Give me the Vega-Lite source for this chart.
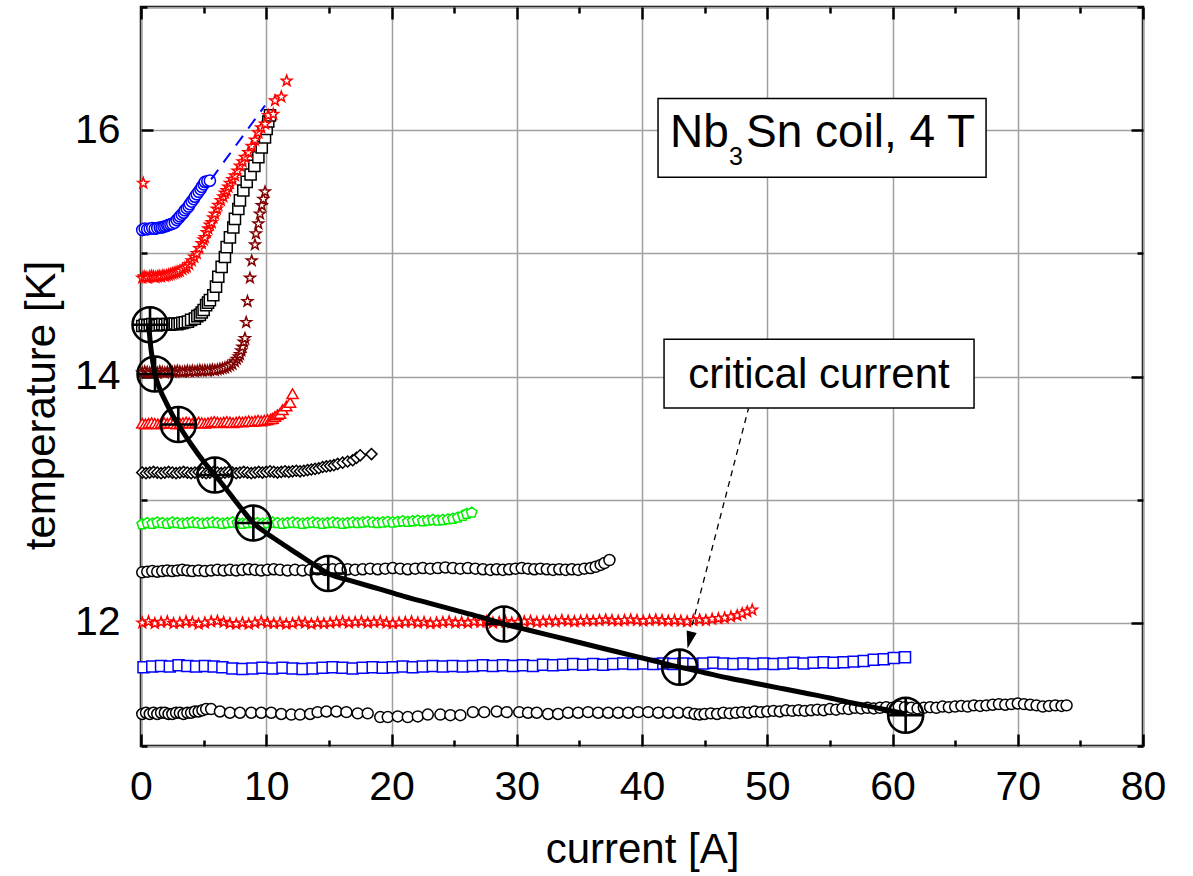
{
"$schema":"https://vega.github.io/schema/vega-lite/v6.json",
"width":1002,"height":739,
"autosize":{"type":"none"},
"padding":{"left":141,"top":7,"right":50,"bottom":130},
"background":"white",
"config":{"view":{"stroke":"black","strokeWidth":2.5},
"axis":{"domain":false,"gridColor":"#a0a0a0","gridWidth":1.5,"tickColor":"black","tickWidth":2.5,"labelFont":"Liberation Sans","labelFontSize":41,"labelColor":"black","titleFont":"Liberation Sans","titleFontSize":42,"titleFontWeight":"normal","titleColor":"black","labelFlush":false,"labelOverlap":false}},
"datasets":{
"series":[
{"s":"a","x":0.1,"y":11.26},{"s":"a","x":0.4,"y":11.27},{"s":"a","x":0.7,"y":11.26},{"s":"a","x":1.0,"y":11.27},{"s":"a","x":1.3,"y":11.26},{"s":"a","x":1.6,"y":11.27},{"s":"a","x":1.9,"y":11.27},{"s":"a","x":2.2,"y":11.26},{"s":"a","x":2.5,"y":11.26},{"s":"a","x":2.8,"y":11.27},{"s":"a","x":3.1,"y":11.27},{"s":"a","x":3.4,"y":11.26},{"s":"a","x":3.7,"y":11.27},{"s":"a","x":4.0,"y":11.27},{"s":"a","x":4.3,"y":11.28},{"s":"a","x":4.6,"y":11.28},{"s":"a","x":4.9,"y":11.29},{"s":"a","x":5.2,"y":11.3},{"s":"a","x":5.6,"y":11.3},
{"s":"a","x":6.3,"y":11.28},{"s":"a","x":7.1,"y":11.27},{"s":"a","x":7.9,"y":11.27},{"s":"a","x":8.8,"y":11.27},{"s":"a","x":9.6,"y":11.27},{"s":"a","x":10.4,"y":11.27},{"s":"a","x":11.2,"y":11.26},{"s":"a","x":12.0,"y":11.255},{"s":"a","x":12.7,"y":11.255},{"s":"a","x":13.5,"y":11.26},{"s":"a","x":14.1,"y":11.275},{"s":"a","x":14.8,"y":11.28},{"s":"a","x":15.6,"y":11.28},{"s":"a","x":16.4,"y":11.275},{"s":"a","x":17.3,"y":11.265},{"s":"a","x":18.1,"y":11.265},{"s":"a","x":19.1,"y":11.235},{"s":"a","x":19.7,"y":11.235},{"s":"a","x":20.5,"y":11.24},{"s":"a","x":21.3,"y":11.235},{"s":"a","x":22.1,"y":11.24},{"s":"a","x":22.9,"y":11.255},{"s":"a","x":23.9,"y":11.255},{"s":"a","x":24.7,"y":11.25},{"s":"a","x":25.5,"y":11.25},{"s":"a","x":26.5,"y":11.275},{"s":"a","x":27.4,"y":11.275},{"s":"a","x":28.4,"y":11.28},{"s":"a","x":29.2,"y":11.275},{"s":"a","x":30.2,"y":11.275},{"s":"a","x":30.9,"y":11.27},{"s":"a","x":31.6,"y":11.27},{"s":"a","x":32.5,"y":11.26},{"s":"a","x":33.3,"y":11.26},{"s":"a","x":34.1,"y":11.27},{"s":"a","x":34.9,"y":11.27},{"s":"a","x":35.7,"y":11.275},{"s":"a","x":36.5,"y":11.27},{"s":"a","x":37.3,"y":11.27},{"s":"a","x":38.1,"y":11.27},{"s":"a","x":38.9,"y":11.27},{"s":"a","x":39.7,"y":11.275},{"s":"a","x":40.5,"y":11.275},{"s":"a","x":41.3,"y":11.27},{"s":"a","x":42.1,"y":11.27},{"s":"a","x":42.9,"y":11.27},{"s":"a","x":43.7,"y":11.27},
{"s":"a","x":44.2,"y":11.26},{"s":"a","x":44.6,"y":11.255},{"s":"a","x":45.0,"y":11.26},{"s":"a","x":45.5,"y":11.265},{"s":"a","x":46.0,"y":11.26},{"s":"a","x":46.5,"y":11.27},{"s":"a","x":47.0,"y":11.265},{"s":"a","x":47.5,"y":11.27},{"s":"a","x":48.0,"y":11.275},{"s":"a","x":48.5,"y":11.27},{"s":"a","x":49.0,"y":11.28},{"s":"a","x":49.5,"y":11.275},{"s":"a","x":50.0,"y":11.28},{"s":"a","x":50.5,"y":11.285},{"s":"a","x":51.0,"y":11.28},{"s":"a","x":51.5,"y":11.29},{"s":"a","x":52.0,"y":11.285},{"s":"a","x":52.5,"y":11.29},{"s":"a","x":53.0,"y":11.285},{"s":"a","x":53.5,"y":11.29},{"s":"a","x":54.0,"y":11.295},{"s":"a","x":54.5,"y":11.29},{"s":"a","x":55.0,"y":11.3},{"s":"a","x":55.5,"y":11.295},{"s":"a","x":56.0,"y":11.305},{"s":"a","x":56.5,"y":11.3},{"s":"a","x":57.0,"y":11.31},{"s":"a","x":57.5,"y":11.305},{"s":"a","x":58.0,"y":11.31},{"s":"a","x":58.5,"y":11.305},{"s":"a","x":59.0,"y":11.31},{"s":"a","x":59.5,"y":11.315},{"s":"a","x":60.0,"y":11.31},{"s":"a","x":60.5,"y":11.32},{"s":"a","x":61.0,"y":11.315},{"s":"a","x":61.5,"y":11.31},{"s":"a","x":62.0,"y":11.305},{"s":"a","x":62.5,"y":11.31},{"s":"a","x":63.0,"y":11.315},{"s":"a","x":63.5,"y":11.31},{"s":"a","x":64.0,"y":11.32},{"s":"a","x":64.5,"y":11.315},{"s":"a","x":65.0,"y":11.32},{"s":"a","x":65.5,"y":11.325},{"s":"a","x":66.0,"y":11.32},{"s":"a","x":66.5,"y":11.33},{"s":"a","x":67.0,"y":11.325},{"s":"a","x":67.5,"y":11.33},{"s":"a","x":68.0,"y":11.335},{"s":"a","x":68.5,"y":11.34},{"s":"a","x":69.0,"y":11.335},{"s":"a","x":69.5,"y":11.34},{"s":"a","x":70.0,"y":11.345},{"s":"a","x":70.5,"y":11.34},{"s":"a","x":71.0,"y":11.335},{"s":"a","x":71.5,"y":11.33},{"s":"a","x":72.0,"y":11.32},{"s":"a","x":72.5,"y":11.325},{"s":"a","x":73.0,"y":11.33},{"s":"a","x":73.5,"y":11.325},{"s":"a","x":73.9,"y":11.33},
{"s":"b","x":0.2,"y":11.64},{"s":"b","x":0.9,"y":11.645},{"s":"b","x":1.6,"y":11.65},{"s":"b","x":2.3,"y":11.645},{"s":"b","x":3.0,"y":11.655},{"s":"b","x":3.7,"y":11.65},{"s":"b","x":4.4,"y":11.645},{"s":"b","x":5.1,"y":11.65},{"s":"b","x":5.8,"y":11.645},{"s":"b","x":6.5,"y":11.64},{"s":"b","x":7.3,"y":11.63},{"s":"b","x":8.1,"y":11.625},{"s":"b","x":8.9,"y":11.63},{"s":"b","x":9.7,"y":11.635},{"s":"b","x":10.5,"y":11.63},{"s":"b","x":11.3,"y":11.635},{"s":"b","x":12.1,"y":11.63},{"s":"b","x":12.9,"y":11.625},{"s":"b","x":13.7,"y":11.63},{"s":"b","x":14.5,"y":11.635},{"s":"b","x":15.3,"y":11.64},{"s":"b","x":16.1,"y":11.635},{"s":"b","x":16.9,"y":11.63},{"s":"b","x":17.7,"y":11.635},{"s":"b","x":18.5,"y":11.64},{"s":"b","x":19.3,"y":11.635},{"s":"b","x":20.1,"y":11.64},{"s":"b","x":20.9,"y":11.645},{"s":"b","x":21.7,"y":11.64},{"s":"b","x":22.5,"y":11.645},{"s":"b","x":23.3,"y":11.65},{"s":"b","x":24.1,"y":11.645},{"s":"b","x":24.9,"y":11.65},{"s":"b","x":25.7,"y":11.645},{"s":"b","x":26.5,"y":11.65},{"s":"b","x":27.3,"y":11.655},{"s":"b","x":28.1,"y":11.65},{"s":"b","x":28.9,"y":11.655},{"s":"b","x":29.7,"y":11.65},{"s":"b","x":30.5,"y":11.655},{"s":"b","x":31.3,"y":11.65},{"s":"b","x":32.1,"y":11.66},{"s":"b","x":32.9,"y":11.655},{"s":"b","x":33.7,"y":11.66},{"s":"b","x":34.5,"y":11.665},{"s":"b","x":35.3,"y":11.66},{"s":"b","x":36.1,"y":11.665},{"s":"b","x":36.9,"y":11.66},{"s":"b","x":37.7,"y":11.665},{"s":"b","x":38.5,"y":11.67},{"s":"b","x":39.3,"y":11.665},{"s":"b","x":40.1,"y":11.67},{"s":"b","x":40.9,"y":11.665},{"s":"b","x":41.7,"y":11.67},{"s":"b","x":42.5,"y":11.665},{"s":"b","x":43.3,"y":11.67},{"s":"b","x":44.1,"y":11.665},{"s":"b","x":44.9,"y":11.67},{"s":"b","x":45.7,"y":11.675},{"s":"b","x":46.5,"y":11.67},{"s":"b","x":47.3,"y":11.665},{"s":"b","x":48.1,"y":11.67},{"s":"b","x":48.9,"y":11.665},{"s":"b","x":49.7,"y":11.67},{"s":"b","x":50.5,"y":11.665},{"s":"b","x":51.3,"y":11.67},{"s":"b","x":52.1,"y":11.675},{"s":"b","x":52.9,"y":11.67},{"s":"b","x":53.7,"y":11.675},{"s":"b","x":54.5,"y":11.68},{"s":"b","x":55.3,"y":11.675},{"s":"b","x":56.1,"y":11.68},{"s":"b","x":56.9,"y":11.685},{"s":"b","x":57.7,"y":11.69},{"s":"b","x":58.5,"y":11.7},{"s":"b","x":59.3,"y":11.705},{"s":"b","x":60.1,"y":11.715},{"s":"b","x":61.0,"y":11.72},
{"s":"c","x":0.1,"y":12.0},{"s":"c","x":0.6,"y":12.01},{"s":"c","x":1.1,"y":11.995},{"s":"c","x":1.6,"y":12.005},{"s":"c","x":2.1,"y":12.01},{"s":"c","x":2.6,"y":11.995},{"s":"c","x":3.1,"y":12.0},{"s":"c","x":3.6,"y":12.01},{"s":"c","x":4.1,"y":12.005},{"s":"c","x":4.6,"y":11.99},{"s":"c","x":5.1,"y":12.0},{"s":"c","x":5.6,"y":12.01},{"s":"c","x":6.1,"y":12.015},{"s":"c","x":6.6,"y":12.005},{"s":"c","x":7.1,"y":11.995},{"s":"c","x":7.6,"y":11.99},{"s":"c","x":8.1,"y":12.0},{"s":"c","x":8.6,"y":11.99},{"s":"c","x":9.1,"y":12.0},{"s":"c","x":9.6,"y":12.01},{"s":"c","x":10.1,"y":12.0},{"s":"c","x":10.6,"y":11.995},{"s":"c","x":11.1,"y":12.0},{"s":"c","x":11.6,"y":11.99},{"s":"c","x":12.1,"y":11.995},{"s":"c","x":12.6,"y":12.005},{"s":"c","x":13.1,"y":12.0},{"s":"c","x":13.6,"y":11.99},{"s":"c","x":14.1,"y":12.0},{"s":"c","x":14.6,"y":11.995},{"s":"c","x":15.1,"y":12.0},{"s":"c","x":15.6,"y":12.005},{"s":"c","x":16.1,"y":12.01},{"s":"c","x":16.6,"y":12.0},{"s":"c","x":17.1,"y":12.005},{"s":"c","x":17.6,"y":12.01},{"s":"c","x":18.1,"y":12.0},{"s":"c","x":18.6,"y":12.005},{"s":"c","x":19.1,"y":12.01},{"s":"c","x":19.6,"y":12.0},{"s":"c","x":20.1,"y":11.995},{"s":"c","x":20.6,"y":12.0},{"s":"c","x":21.1,"y":12.005},{"s":"c","x":21.6,"y":12.01},{"s":"c","x":22.1,"y":12.0},{"s":"c","x":22.6,"y":12.005},{"s":"c","x":23.1,"y":11.995},{"s":"c","x":23.6,"y":12.0},{"s":"c","x":24.1,"y":12.005},{"s":"c","x":24.6,"y":12.01},{"s":"c","x":25.1,"y":12.0},{"s":"c","x":25.6,"y":12.005},{"s":"c","x":26.1,"y":12.0},{"s":"c","x":26.6,"y":12.01},{"s":"c","x":27.1,"y":12.005},{"s":"c","x":27.6,"y":12.01},{"s":"c","x":28.1,"y":12.0},{"s":"c","x":28.6,"y":12.005},{"s":"c","x":29.1,"y":12.01},{"s":"c","x":29.6,"y":12.0},{"s":"c","x":30.1,"y":12.005},{"s":"c","x":30.6,"y":12.01},{"s":"c","x":31.1,"y":12.015},{"s":"c","x":31.6,"y":12.005},{"s":"c","x":32.1,"y":12.01},{"s":"c","x":32.6,"y":12.015},{"s":"c","x":33.1,"y":12.01},{"s":"c","x":33.6,"y":12.02},{"s":"c","x":34.1,"y":12.015},{"s":"c","x":34.6,"y":12.01},{"s":"c","x":35.1,"y":12.015},{"s":"c","x":35.6,"y":12.02},{"s":"c","x":36.1,"y":12.015},{"s":"c","x":36.6,"y":12.02},{"s":"c","x":37.1,"y":12.025},{"s":"c","x":37.6,"y":12.02},{"s":"c","x":38.1,"y":12.015},{"s":"c","x":38.6,"y":12.02},{"s":"c","x":39.1,"y":12.025},{"s":"c","x":39.6,"y":12.02},{"s":"c","x":40.1,"y":12.015},{"s":"c","x":40.6,"y":12.02},{"s":"c","x":41.1,"y":12.025},{"s":"c","x":41.6,"y":12.02},{"s":"c","x":42.1,"y":12.015},{"s":"c","x":42.6,"y":12.02},{"s":"c","x":43.1,"y":12.015},{"s":"c","x":43.6,"y":12.01},{"s":"c","x":44.1,"y":12.02},{"s":"c","x":44.6,"y":12.025},{"s":"c","x":45.1,"y":12.02},{"s":"c","x":45.6,"y":12.03},{"s":"c","x":46.1,"y":12.035},{"s":"c","x":46.6,"y":12.04},{"s":"c","x":47.1,"y":12.05},{"s":"c","x":47.6,"y":12.06},{"s":"c","x":48.0,"y":12.075},{"s":"c","x":48.4,"y":12.09},{"s":"c","x":48.8,"y":12.105},
{"s":"d","x":0.1,"y":12.41},{"s":"d","x":0.5,"y":12.415},{"s":"d","x":0.9,"y":12.42},{"s":"d","x":1.3,"y":12.415},{"s":"d","x":1.7,"y":12.42},{"s":"d","x":2.1,"y":12.425},{"s":"d","x":2.5,"y":12.42},{"s":"d","x":2.9,"y":12.425},{"s":"d","x":3.3,"y":12.43},{"s":"d","x":3.7,"y":12.425},{"s":"d","x":4.1,"y":12.42},{"s":"d","x":4.6,"y":12.425},{"s":"d","x":5.1,"y":12.42},{"s":"d","x":5.6,"y":12.425},{"s":"d","x":6.1,"y":12.43},{"s":"d","x":6.6,"y":12.425},{"s":"d","x":7.1,"y":12.43},{"s":"d","x":7.6,"y":12.425},{"s":"d","x":8.1,"y":12.43},{"s":"d","x":8.6,"y":12.435},{"s":"d","x":9.1,"y":12.43},{"s":"d","x":9.6,"y":12.425},{"s":"d","x":10.1,"y":12.43},{"s":"d","x":10.6,"y":12.435},{"s":"d","x":11.1,"y":12.43},{"s":"d","x":11.7,"y":12.425},{"s":"d","x":12.3,"y":12.43},{"s":"d","x":12.9,"y":12.425},{"s":"d","x":13.5,"y":12.43},{"s":"d","x":14.1,"y":12.435},{"s":"d","x":14.7,"y":12.43},{"s":"d","x":15.3,"y":12.435},{"s":"d","x":15.9,"y":12.44},{"s":"d","x":16.5,"y":12.435},{"s":"d","x":17.1,"y":12.43},{"s":"d","x":17.7,"y":12.435},{"s":"d","x":18.3,"y":12.44},{"s":"d","x":18.9,"y":12.435},{"s":"d","x":19.5,"y":12.44},{"s":"d","x":20.1,"y":12.445},{"s":"d","x":20.7,"y":12.44},{"s":"d","x":21.3,"y":12.435},{"s":"d","x":21.9,"y":12.44},{"s":"d","x":22.5,"y":12.445},{"s":"d","x":23.1,"y":12.44},{"s":"d","x":23.7,"y":12.445},{"s":"d","x":24.3,"y":12.45},{"s":"d","x":24.9,"y":12.445},{"s":"d","x":25.5,"y":12.44},{"s":"d","x":26.1,"y":12.445},{"s":"d","x":26.7,"y":12.44},{"s":"d","x":27.3,"y":12.435},{"s":"d","x":27.9,"y":12.43},{"s":"d","x":28.4,"y":12.435},{"s":"d","x":28.9,"y":12.43},{"s":"d","x":29.4,"y":12.435},{"s":"d","x":29.9,"y":12.44},{"s":"d","x":30.4,"y":12.445},{"s":"d","x":30.9,"y":12.44},{"s":"d","x":31.4,"y":12.435},{"s":"d","x":31.9,"y":12.44},{"s":"d","x":32.4,"y":12.435},{"s":"d","x":32.9,"y":12.43},{"s":"d","x":33.4,"y":12.435},{"s":"d","x":33.9,"y":12.43},{"s":"d","x":34.4,"y":12.435},{"s":"d","x":34.9,"y":12.43},{"s":"d","x":35.4,"y":12.44},{"s":"d","x":35.9,"y":12.445},{"s":"d","x":36.3,"y":12.455},{"s":"d","x":36.7,"y":12.47},{"s":"d","x":37.0,"y":12.485},{"s":"d","x":37.4,"y":12.51},
{"s":"e","x":0.1,"y":12.8},{"s":"e","x":0.5,"y":12.81},{"s":"e","x":0.9,"y":12.805},{"s":"e","x":1.3,"y":12.815},{"s":"e","x":1.7,"y":12.81},{"s":"e","x":2.1,"y":12.805},{"s":"e","x":2.5,"y":12.815},{"s":"e","x":2.9,"y":12.81},{"s":"e","x":3.3,"y":12.805},{"s":"e","x":3.7,"y":12.81},{"s":"e","x":4.1,"y":12.815},{"s":"e","x":4.5,"y":12.81},{"s":"e","x":4.9,"y":12.805},{"s":"e","x":5.3,"y":12.81},{"s":"e","x":5.7,"y":12.815},{"s":"e","x":6.1,"y":12.81},{"s":"e","x":6.5,"y":12.805},{"s":"e","x":6.9,"y":12.81},{"s":"e","x":7.3,"y":12.815},{"s":"e","x":7.7,"y":12.81},{"s":"e","x":8.1,"y":12.805},{"s":"e","x":8.5,"y":12.81},{"s":"e","x":8.9,"y":12.815},{"s":"e","x":9.3,"y":12.81},{"s":"e","x":9.7,"y":12.805},{"s":"e","x":10.1,"y":12.81},{"s":"e","x":10.5,"y":12.815},{"s":"e","x":10.9,"y":12.81},{"s":"e","x":11.3,"y":12.805},{"s":"e","x":11.7,"y":12.81},{"s":"e","x":12.1,"y":12.815},{"s":"e","x":12.5,"y":12.81},{"s":"e","x":12.9,"y":12.805},{"s":"e","x":13.3,"y":12.81},{"s":"e","x":13.7,"y":12.815},{"s":"e","x":14.1,"y":12.81},{"s":"e","x":14.5,"y":12.805},{"s":"e","x":14.9,"y":12.81},{"s":"e","x":15.3,"y":12.815},{"s":"e","x":15.7,"y":12.81},{"s":"e","x":16.1,"y":12.805},{"s":"e","x":16.5,"y":12.81},{"s":"e","x":16.9,"y":12.815},{"s":"e","x":17.3,"y":12.81},{"s":"e","x":17.7,"y":12.815},{"s":"e","x":18.1,"y":12.82},{"s":"e","x":18.5,"y":12.815},{"s":"e","x":18.9,"y":12.81},{"s":"e","x":19.3,"y":12.815},{"s":"e","x":19.7,"y":12.82},{"s":"e","x":20.1,"y":12.815},{"s":"e","x":20.5,"y":12.82},{"s":"e","x":20.9,"y":12.825},{"s":"e","x":21.3,"y":12.82},{"s":"e","x":21.7,"y":12.825},{"s":"e","x":22.1,"y":12.83},{"s":"e","x":22.5,"y":12.825},{"s":"e","x":22.9,"y":12.83},{"s":"e","x":23.3,"y":12.835},{"s":"e","x":23.7,"y":12.83},{"s":"e","x":24.1,"y":12.835},{"s":"e","x":24.5,"y":12.84},{"s":"e","x":24.9,"y":12.845},{"s":"e","x":25.3,"y":12.855},{"s":"e","x":25.7,"y":12.87},{"s":"e","x":26.0,"y":12.885},{"s":"e","x":26.4,"y":12.895},
{"s":"f","x":0.1,"y":13.22},{"s":"f","x":0.4,"y":13.215},{"s":"f","x":0.7,"y":13.22},{"s":"f","x":1.0,"y":13.225},{"s":"f","x":1.3,"y":13.22},{"s":"f","x":1.6,"y":13.215},{"s":"f","x":1.9,"y":13.22},{"s":"f","x":2.2,"y":13.225},{"s":"f","x":2.5,"y":13.22},{"s":"f","x":2.8,"y":13.215},{"s":"f","x":3.1,"y":13.22},{"s":"f","x":3.4,"y":13.225},{"s":"f","x":3.7,"y":13.22},{"s":"f","x":4.0,"y":13.215},{"s":"f","x":4.3,"y":13.22},{"s":"f","x":4.6,"y":13.225},{"s":"f","x":4.9,"y":13.22},{"s":"f","x":5.2,"y":13.215},{"s":"f","x":5.5,"y":13.22},{"s":"f","x":5.8,"y":13.225},{"s":"f","x":6.1,"y":13.22},{"s":"f","x":6.4,"y":13.215},{"s":"f","x":6.7,"y":13.22},{"s":"f","x":7.0,"y":13.225},{"s":"f","x":7.3,"y":13.22},{"s":"f","x":7.6,"y":13.215},{"s":"f","x":7.9,"y":13.22},{"s":"f","x":8.2,"y":13.225},{"s":"f","x":8.5,"y":13.22},{"s":"f","x":8.8,"y":13.215},{"s":"f","x":9.1,"y":13.22},{"s":"f","x":9.4,"y":13.225},{"s":"f","x":9.7,"y":13.22},{"s":"f","x":10.0,"y":13.225},{"s":"f","x":10.3,"y":13.23},{"s":"f","x":10.6,"y":13.225},{"s":"f","x":10.9,"y":13.22},{"s":"f","x":11.2,"y":13.225},{"s":"f","x":11.5,"y":13.23},{"s":"f","x":11.8,"y":13.225},{"s":"f","x":12.1,"y":13.23},{"s":"f","x":12.4,"y":13.235},{"s":"f","x":12.7,"y":13.23},{"s":"f","x":13.0,"y":13.235},{"s":"f","x":13.3,"y":13.24},{"s":"f","x":13.6,"y":13.245},{"s":"f","x":13.9,"y":13.25},{"s":"f","x":14.2,"y":13.255},{"s":"f","x":14.5,"y":13.265},{"s":"f","x":14.8,"y":13.27},{"s":"f","x":15.1,"y":13.275},{"s":"f","x":15.4,"y":13.28},{"s":"f","x":15.7,"y":13.29},{"s":"f","x":16.1,"y":13.3},{"s":"f","x":16.5,"y":13.31},{"s":"f","x":16.9,"y":13.32},{"s":"f","x":17.2,"y":13.34},{"s":"f","x":17.5,"y":13.36},{"s":"f","x":18.4,"y":13.37},
{"s":"g","x":0.1,"y":13.62},{"s":"g","x":0.35,"y":13.615},{"s":"g","x":0.6,"y":13.62},{"s":"g","x":0.85,"y":13.625},{"s":"g","x":1.1,"y":13.62},{"s":"g","x":1.35,"y":13.615},{"s":"g","x":1.6,"y":13.62},{"s":"g","x":1.85,"y":13.625},{"s":"g","x":2.1,"y":13.62},{"s":"g","x":2.35,"y":13.625},{"s":"g","x":2.6,"y":13.62},{"s":"g","x":2.85,"y":13.615},{"s":"g","x":3.1,"y":13.62},{"s":"g","x":3.35,"y":13.625},{"s":"g","x":3.6,"y":13.63},{"s":"g","x":3.85,"y":13.625},{"s":"g","x":4.1,"y":13.62},{"s":"g","x":4.35,"y":13.625},{"s":"g","x":4.6,"y":13.63},{"s":"g","x":4.85,"y":13.625},{"s":"g","x":5.1,"y":13.62},{"s":"g","x":5.35,"y":13.625},{"s":"g","x":5.6,"y":13.63},{"s":"g","x":5.85,"y":13.635},{"s":"g","x":6.1,"y":13.63},{"s":"g","x":6.35,"y":13.625},{"s":"g","x":6.6,"y":13.63},{"s":"g","x":6.85,"y":13.635},{"s":"g","x":7.1,"y":13.63},{"s":"g","x":7.35,"y":13.625},{"s":"g","x":7.6,"y":13.63},{"s":"g","x":7.85,"y":13.635},{"s":"g","x":8.1,"y":13.63},{"s":"g","x":8.35,"y":13.635},{"s":"g","x":8.6,"y":13.64},{"s":"g","x":8.85,"y":13.635},{"s":"g","x":9.1,"y":13.64},{"s":"g","x":9.35,"y":13.645},{"s":"g","x":9.6,"y":13.64},{"s":"g","x":9.85,"y":13.645},{"s":"g","x":10.1,"y":13.65},{"s":"g","x":10.35,"y":13.655},{"s":"g","x":10.5,"y":13.66},{"s":"g","x":10.7,"y":13.675},{"s":"g","x":10.9,"y":13.69},{"s":"g","x":11.1,"y":13.7},{"s":"g","x":11.3,"y":13.73},{"s":"g","x":11.6,"y":13.76},{"s":"g","x":11.9,"y":13.79},{"s":"g","x":12.1,"y":13.86},
{"s":"h","x":0.1,"y":14.03},{"s":"h","x":0.3,"y":14.04},{"s":"h","x":0.5,"y":14.035},{"s":"h","x":0.7,"y":14.03},{"s":"h","x":0.9,"y":14.04},{"s":"h","x":1.1,"y":14.035},{"s":"h","x":1.3,"y":14.03},{"s":"h","x":1.5,"y":14.04},{"s":"h","x":1.7,"y":14.035},{"s":"h","x":1.9,"y":14.03},{"s":"h","x":2.1,"y":14.035},{"s":"h","x":2.3,"y":14.04},{"s":"h","x":2.5,"y":14.035},{"s":"h","x":2.7,"y":14.04},{"s":"h","x":2.9,"y":14.045},{"s":"h","x":3.1,"y":14.04},{"s":"h","x":3.3,"y":14.035},{"s":"h","x":3.5,"y":14.04},{"s":"h","x":3.7,"y":14.045},{"s":"h","x":3.9,"y":14.04},{"s":"h","x":4.1,"y":14.045},{"s":"h","x":4.3,"y":14.04},{"s":"h","x":4.5,"y":14.045},{"s":"h","x":4.7,"y":14.05},{"s":"h","x":4.9,"y":14.045},{"s":"h","x":5.1,"y":14.05},{"s":"h","x":5.3,"y":14.045},{"s":"h","x":5.5,"y":14.05},{"s":"h","x":5.7,"y":14.055},{"s":"h","x":5.9,"y":14.05},{"s":"h","x":6.1,"y":14.055},{"s":"h","x":6.3,"y":14.06},{"s":"h","x":6.5,"y":14.065},{"s":"h","x":6.7,"y":14.07},{"s":"h","x":6.9,"y":14.08},{"s":"h","x":7.1,"y":14.09},{"s":"h","x":7.3,"y":14.1},{"s":"h","x":7.5,"y":14.12},{"s":"h","x":7.65,"y":14.14},{"s":"h","x":7.8,"y":14.16},{"s":"h","x":7.9,"y":14.18},{"s":"h","x":8.0,"y":14.21},{"s":"h","x":8.1,"y":14.24},{"s":"h","x":8.2,"y":14.28},{"s":"h","x":8.3,"y":14.31},{"s":"h","x":8.4,"y":14.44},{"s":"h","x":8.5,"y":14.61},{"s":"h","x":8.7,"y":14.8},{"s":"h","x":8.84,"y":14.94},{"s":"h","x":9.1,"y":15.07},{"s":"h","x":9.18,"y":15.16},{"s":"h","x":9.37,"y":15.24},{"s":"h","x":9.5,"y":15.32},{"s":"h","x":9.64,"y":15.39},{"s":"h","x":9.77,"y":15.44},{"s":"h","x":9.9,"y":15.5},
{"s":"i","x":0.1,"y":14.41},{"s":"i","x":0.3,"y":14.42},{"s":"i","x":0.5,"y":14.415},{"s":"i","x":0.7,"y":14.42},{"s":"i","x":0.9,"y":14.425},{"s":"i","x":1.1,"y":14.42},{"s":"i","x":1.3,"y":14.415},{"s":"i","x":1.5,"y":14.42},{"s":"i","x":1.7,"y":14.425},{"s":"i","x":1.9,"y":14.42},{"s":"i","x":2.1,"y":14.425},{"s":"i","x":2.3,"y":14.42},{"s":"i","x":2.5,"y":14.425},{"s":"i","x":2.7,"y":14.43},{"s":"i","x":2.9,"y":14.425},{"s":"i","x":3.1,"y":14.43},{"s":"i","x":3.3,"y":14.435},{"s":"i","x":3.5,"y":14.44},{"s":"i","x":3.75,"y":14.445},{"s":"i","x":4.0,"y":14.46},{"s":"i","x":4.3,"y":14.47},{"s":"i","x":4.5,"y":14.49},{"s":"i","x":4.7,"y":14.5},{"s":"i","x":4.85,"y":14.52},{"s":"i","x":5.0,"y":14.54},{"s":"i","x":5.2,"y":14.58},{"s":"i","x":5.35,"y":14.6},{"s":"i","x":5.5,"y":14.62},{"s":"i","x":5.77,"y":14.66},{"s":"i","x":5.99,"y":14.73},{"s":"i","x":6.17,"y":14.81},{"s":"i","x":6.44,"y":14.89},{"s":"i","x":6.7,"y":14.97},{"s":"i","x":6.84,"y":15.05},{"s":"i","x":7.1,"y":15.13},{"s":"i","x":7.37,"y":15.21},{"s":"i","x":7.5,"y":15.28},{"s":"i","x":7.77,"y":15.36},{"s":"i","x":7.9,"y":15.43},{"s":"i","x":8.17,"y":15.51},{"s":"i","x":8.44,"y":15.58},{"s":"i","x":8.75,"y":15.64},{"s":"i","x":9.05,"y":15.71},{"s":"i","x":9.37,"y":15.78},{"s":"i","x":9.64,"y":15.86},{"s":"i","x":9.9,"y":15.94},{"s":"i","x":10.03,"y":16.01},{"s":"i","x":10.16,"y":16.07},{"s":"i","x":10.3,"y":16.12},
{"s":"j","x":0.18,"y":15.57},{"s":"j","x":0.1,"y":14.8},{"s":"j","x":0.25,"y":14.81},{"s":"j","x":0.4,"y":14.805},{"s":"j","x":0.55,"y":14.8},{"s":"j","x":0.7,"y":14.81},{"s":"j","x":0.85,"y":14.815},{"s":"j","x":1.0,"y":14.81},{"s":"j","x":1.15,"y":14.805},{"s":"j","x":1.3,"y":14.81},{"s":"j","x":1.45,"y":14.815},{"s":"j","x":1.6,"y":14.81},{"s":"j","x":1.75,"y":14.82},{"s":"j","x":1.9,"y":14.815},{"s":"j","x":2.05,"y":14.82},{"s":"j","x":2.2,"y":14.825},{"s":"j","x":2.35,"y":14.83},{"s":"j","x":2.5,"y":14.835},{"s":"j","x":2.65,"y":14.84},{"s":"j","x":2.8,"y":14.845},{"s":"j","x":2.95,"y":14.85},{"s":"j","x":3.1,"y":14.855},{"s":"j","x":3.3,"y":14.87},{"s":"j","x":3.5,"y":14.88},{"s":"j","x":3.65,"y":14.89},{"s":"j","x":3.85,"y":14.91},{"s":"j","x":4.05,"y":14.94},{"s":"j","x":4.25,"y":14.97},{"s":"j","x":4.45,"y":15.0},{"s":"j","x":4.65,"y":15.04},{"s":"j","x":4.85,"y":15.08},{"s":"j","x":5.0,"y":15.11},{"s":"j","x":5.1,"y":15.13},{"s":"j","x":5.25,"y":15.17},{"s":"j","x":5.37,"y":15.2},{"s":"j","x":5.5,"y":15.23},{"s":"j","x":5.64,"y":15.25},{"s":"j","x":5.77,"y":15.29},{"s":"j","x":5.9,"y":15.32},{"s":"j","x":6.05,"y":15.36},{"s":"j","x":6.17,"y":15.39},{"s":"j","x":6.37,"y":15.43},{"s":"j","x":6.57,"y":15.46},{"s":"j","x":6.7,"y":15.49},{"s":"j","x":6.84,"y":15.51},{"s":"j","x":6.97,"y":15.54},{"s":"j","x":7.1,"y":15.57},{"s":"j","x":7.3,"y":15.6},{"s":"j","x":7.5,"y":15.63},{"s":"j","x":7.7,"y":15.67},{"s":"j","x":7.9,"y":15.71},{"s":"j","x":8.1,"y":15.745},{"s":"j","x":8.3,"y":15.78},{"s":"j","x":8.57,"y":15.82},{"s":"j","x":8.84,"y":15.87},{"s":"j","x":9.1,"y":15.92},{"s":"j","x":9.37,"y":15.98},{"s":"j","x":9.6,"y":16.02},{"s":"j","x":9.9,"y":16.05},{"s":"j","x":10.16,"y":16.12},{"s":"j","x":10.56,"y":16.13},{"s":"j","x":10.7,"y":16.24},{"s":"j","x":11.2,"y":16.27},{"s":"j","x":11.63,"y":16.4},
{"s":"k","x":0.1,"y":15.19},{"s":"k","x":0.3,"y":15.2},{"s":"k","x":0.5,"y":15.195},{"s":"k","x":0.7,"y":15.2},{"s":"k","x":0.9,"y":15.205},{"s":"k","x":1.1,"y":15.2},{"s":"k","x":1.3,"y":15.205},{"s":"k","x":1.5,"y":15.21},{"s":"k","x":1.65,"y":15.21},{"s":"k","x":1.8,"y":15.215},{"s":"k","x":1.95,"y":15.22},{"s":"k","x":2.1,"y":15.225},{"s":"k","x":2.2,"y":15.23},{"s":"k","x":2.35,"y":15.235},{"s":"k","x":2.5,"y":15.24},{"s":"k","x":2.7,"y":15.25},{"s":"k","x":2.85,"y":15.27},{"s":"k","x":3.0,"y":15.285},{"s":"k","x":3.1,"y":15.3},{"s":"k","x":3.25,"y":15.315},{"s":"k","x":3.4,"y":15.33},{"s":"k","x":3.5,"y":15.35},{"s":"k","x":3.65,"y":15.365},{"s":"k","x":3.8,"y":15.38},{"s":"k","x":3.9,"y":15.4},{"s":"k","x":4.05,"y":15.42},{"s":"k","x":4.2,"y":15.44},{"s":"k","x":4.3,"y":15.46},{"s":"k","x":4.45,"y":15.48},{"s":"k","x":4.6,"y":15.5},{"s":"k","x":4.75,"y":15.52},{"s":"k","x":4.85,"y":15.54},{"s":"k","x":5.0,"y":15.56},{"s":"k","x":5.1,"y":15.58},{"s":"k","x":5.3,"y":15.585},{"s":"k","x":5.5,"y":15.59}
],
"curve":[{"x":0.6,"y":14.43},{"x":0.8,"y":14.22},{"x":1.12,"y":14.02},{"x":1.5,"y":13.9},{"x":2.0,"y":13.79},{"x":2.5,"y":13.69},{"x":2.98,"y":13.61},{"x":4.0,"y":13.45},{"x":5.0,"y":13.31},{"x":5.9,"y":13.2},{"x":7.0,"y":13.06},{"x":8.0,"y":12.93},{"x":8.97,"y":12.81},{"x":10.0,"y":12.73},{"x":11.0,"y":12.66},{"x":12.5,"y":12.56},{"x":14.0,"y":12.46},{"x":14.95,"y":12.4},{"x":17.0,"y":12.335},{"x":19.0,"y":12.275},{"x":21.0,"y":12.215},{"x":23.0,"y":12.16},{"x":25.0,"y":12.105},{"x":27.0,"y":12.05},{"x":28.98,"y":11.99},{"x":31.0,"y":11.94},{"x":33.0,"y":11.89},{"x":35.0,"y":11.84},{"x":37.0,"y":11.79},{"x":39.0,"y":11.74},{"x":41.0,"y":11.69},{"x":43.0,"y":11.64},{"x":45.0,"y":11.595},{"x":47.0,"y":11.55},{"x":49.0,"y":11.51},{"x":51.0,"y":11.47},{"x":53.0,"y":11.43},{"x":55.0,"y":11.39},{"x":57.0,"y":11.345},{"x":59.0,"y":11.305},{"x":61.05,"y":11.26}],
"crit":[{"x":0.72,"y":14.42},{"x":1.12,"y":14.02},{"x":2.98,"y":13.61},{"x":5.9,"y":13.2},{"x":8.97,"y":12.81},{"x":14.95,"y":12.4},{"x":28.98,"y":11.99},{"x":43.0,"y":11.64},{"x":61.05,"y":11.25}]
},
"layer":[
{"data":{"name":"series"},
"mark":{"type":"point","filled":true,"fill":"white","strokeWidth":1.5,"opacity":1},
"encoding":{
"x":{"field":"x","type":"quantitative","scale":{"domain":[0,80],"nice":false,"zero":false},
"axis":{"orient":"bottom","values":[0,5,10,15,20,25,30,35,40,45,50,55,60,65,70,75,80],"labelExpr":"datum.value % 10 === 0 ? datum.label : ''","tickSize":{"condition":{"test":"datum.value % 10 === 0","value":-12},"value":-6},"labelPadding":33,"grid":true,"gridOpacity":{"condition":{"test":"datum.value % 10 === 0","value":1},"value":0},"title":"current [A]","titleX":501,"titleY":116,"titleBaseline":"alphabetic"}},
"y":{"field":"y","type":"quantitative","scale":{"domain":[11,17],"nice":false,"zero":false},
"axis":{"orient":"left","values":[11,12,13,14,15,16,17],"labelExpr":"datum.value % 2 === 0 ? datum.label : ''","tickSize":{"condition":{"test":"datum.value % 2 === 0","value":-12},"value":-6},"labelPadding":33,"grid":true,"title":"temperature [K]","titleX":-87,"titleY":398,"titleAngle":270,"titleAlign":"center","titleBaseline":"alphabetic"}},
"stroke":{"field":"s","type":"nominal","scale":{"domain":["a","b","c","d","e","f","g","h","i","j","k"],"range":["#000000","#0000ff","#ff0000","#000000","#00ee00","#000000","#ff0000","#800000","#000000","#ff0000","#0000ff"]},"legend":null},
"shape":{"field":"s","type":"nominal","scale":{"domain":["a","b","c","d","e","f","g","h","i","j","k"],"range":["circle","square","M0,-1L0.235,-0.324L0.951,-0.309L0.38,0.124L0.588,0.809L0,0.4L-0.588,0.809L-0.38,0.124L-0.951,-0.309L-0.235,-0.324Z","circle","M0,-1L0.951,-0.309L0.588,0.809L-0.588,0.809L-0.951,-0.309Z","diamond","triangle-up","M0,-1L0.235,-0.324L0.951,-0.309L0.38,0.124L0.588,0.809L0,0.4L-0.588,0.809L-0.38,0.124L-0.951,-0.309L-0.235,-0.324Z","square","M0,-1L0.235,-0.324L0.951,-0.309L0.38,0.124L0.588,0.809L0,0.4L-0.588,0.809L-0.38,0.124L-0.951,-0.309L-0.235,-0.324Z","circle"]},"legend":null},
"size":{"field":"s","type":"nominal","scale":{"domain":["a","b","c","d","e","f","g","h","i","j","k"],"range":[120,125,125,120,135,135,135,175,145,165,135]},"legend":null}
}},
{"data":{"values":[{"x":5.6,"y":15.6},{"x":9.9,"y":16.2}]},
"mark":{"type":"line","color":"#0000ff","strokeWidth":2,"strokeDash":[12,9]},
"encoding":{"x":{"field":"x","type":"quantitative","axis":null},"y":{"field":"y","type":"quantitative","axis":null}}},
{"data":{"name":"curve"},
"mark":{"type":"line","color":"black","strokeWidth":5,"interpolate":"monotone"},
"encoding":{"x":{"field":"x","type":"quantitative","axis":{"orient":"top","values":[0,5,10,15,20,25,30,35,40,45,50,55,60,65,70,75,80],"labels":false,"title":null,"grid":false,"tickSize":{"condition":{"test":"datum.value % 10 === 0","value":-12},"value":-6}}},
"y":{"field":"y","type":"quantitative","axis":{"orient":"right","values":[11,12,13,14,15,16,17],"labels":false,"title":null,"grid":false,"tickSize":{"condition":{"test":"datum.value % 2 === 0","value":-12},"value":-6}}}}},
{"data":{"name":"crit"},
"mark":{"type":"point","filled":false,"color":"black","strokeWidth":2.6,"size":1225,"opacity":1,"shape":"M-1,0A1,1,0,1,1,1,0A1,1,0,1,1,-1,0ZM0,-1L0,1M-1,0L1,0"},
"encoding":{"x":{"field":"x","type":"quantitative","axis":null},"y":{"field":"y","type":"quantitative","axis":null}}},
{"data":{"values":[{"x":48.5,"y":13.74},{"x":44.0,"y":11.98}]},
"mark":{"type":"line","color":"black","strokeWidth":1.3,"strokeDash":[6,5]},
"encoding":{"x":{"field":"x","type":"quantitative","axis":null},"y":{"field":"y","type":"quantitative","axis":null}}},
{"data":{"values":[{"x":43.8,"y":11.86}]},
"mark":{"type":"point","filled":true,"color":"black","opacity":1,"size":300,"angle":14,"shape":"M-0.6,-1L0.6,-1L0,1Z"},
"encoding":{"x":{"field":"x","type":"quantitative","axis":null},"y":{"field":"y","type":"quantitative","axis":null}}},
{"data":{"values":[{"x":41.28,"x2":67.47,"y":16.258,"y2":15.617},{"x":41.76,"x2":66.51,"y":14.303,"y2":13.744}]},
"mark":{"type":"rect","fill":"white","stroke":"black","strokeWidth":1.5},
"encoding":{"x":{"field":"x","type":"quantitative","axis":null},"x2":{"field":"x2"},"y":{"field":"y","type":"quantitative","axis":null},"y2":{"field":"y2"}}},
{"data":{"values":[{"t":"Nb","x":42.24,"y":15.86},{"t":"Sn coil, 4 T","x":48.3,"y":15.86}]},
"mark":{"type":"text","font":"Liberation Sans","fontSize":46,"align":"left","baseline":"alphabetic","color":"black"},
"encoding":{"x":{"field":"x","type":"quantitative","axis":null},"y":{"field":"y","type":"quantitative","axis":null},"text":{"field":"t"}}},
{"data":{"values":[{"t":"3","x":46.95,"y":15.715}]},
"mark":{"type":"text","font":"Liberation Sans","fontSize":25,"align":"left","baseline":"alphabetic","color":"black"},
"encoding":{"x":{"field":"x","type":"quantitative","axis":null},"y":{"field":"y","type":"quantitative","axis":null},"text":{"field":"t"}}},
{"data":{"values":[{"t":"critical current","x":54.13,"y":13.906}]},
"mark":{"type":"text","font":"Liberation Sans","fontSize":42,"align":"center","baseline":"alphabetic","color":"black"},
"encoding":{"x":{"field":"x","type":"quantitative","axis":null},"y":{"field":"y","type":"quantitative","axis":null},"text":{"field":"t"}}}
],
"resolve":{"axis":{"x":"independent","y":"independent"}}
}
